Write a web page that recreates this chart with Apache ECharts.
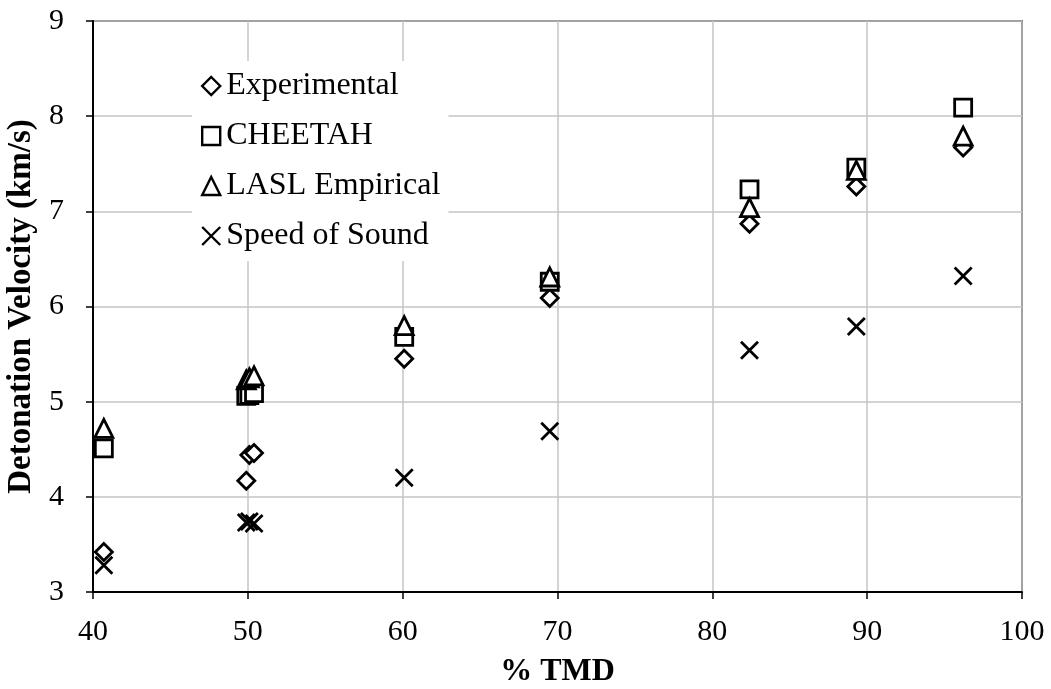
<!DOCTYPE html>
<html>
<head>
<meta charset="utf-8">
<script src="https://cdn.jsdelivr.net/npm/echarts@6/dist/echarts.min.js"></script>
<style>
  html, body { margin: 0; padding: 0; background: #fff; }
  #chart { width: 1051px; height: 689px; }
</style>
</head>
<body>
<div id="chart"></div>
<script>
// % of theoretical maximum density for each test
const tmd = [40.7, 49.9, 50.1, 50.4, 60.1, 69.5, 82.4, 89.3, 96.2];

// Detonation velocity (km/s)
const experimental = [3.42, 4.17, 4.44, 4.46, 5.45, 6.09, 6.87, 7.26, 7.67];
const cheetah      = [4.51, 5.06, 5.07, 5.09, 5.68, 6.26, 7.23, 7.46, 8.09];
const laslEmpirical= [4.72, 5.23, 5.25, 5.27, 5.80, 6.31, 7.04, 7.43, 7.79];
const speedOfSound = [3.28, 3.73, 3.74, 3.72, 4.20, 4.69, 5.54, 5.79, 6.32];

const seriesNames = ['Experimental', 'CHEETAH', 'LASL Empirical', 'Speed of Sound'];

const FONT = '"Liberation Serif", "Times New Roman", serif';

const DIAMOND = 'path://M0,-1L1,0L0,1L-1,0Z';
const CROSS = 'path://M-1,-1L1,1M1,-1L-1,1';

function pairs(values) {
  return tmd.map((x, i) => [x, values[i]]);
}

function scatter(name, values, symbol, size, filled) {
  return {
    name: name,
    type: 'scatter',
    data: pairs(values),
    symbol: symbol,
    symbolSize: size,
    itemStyle: {
      color: filled ? '#fff' : 'rgba(0,0,0,0)',
      borderColor: '#000',
      borderWidth: 2.8,
      opacity: 1
    },
    emphasis: { disabled: true }
  };
}

const chart = echarts.init(document.getElementById('chart'), null, { renderer: 'canvas' });

chart.setOption({
  animation: false,
  backgroundColor: '#fff',
  grid: {
    left: 93, right: 29, top: 21, bottom: 97,
    containLabel: false,
    outerBoundsMode: 'none',
    show: true, borderColor: '#000', borderWidth: 1.5
  },
  legend: {
    orient: 'vertical',
    left: 192,
    top: 61,
    padding: [9, 8, 9, 9],
    backgroundColor: '#fff',
    itemWidth: 18,
    itemHeight: 18,
    itemGap: 18,
    data: seriesNames,
    textStyle: {
      fontFamily: FONT, fontSize: 32, color: '#000',
      lineHeight: 32, padding: [0, 0, 0, 1]
    },
    itemStyle: { borderWidth: 2.4, opacity: 1 }
  },
  xAxis: {
    type: 'value',
    min: 40, max: 100, interval: 10,
    name: '% TMD',
    nameLocation: 'middle',
    nameGap: 64,
    nameTextStyle: { fontFamily: FONT, fontSize: 32, fontWeight: 'bold', color: '#000' },
    axisLine: { show: true, lineStyle: { color: '#000', width: 2 } },
    axisTick: { show: true, length: 7, lineStyle: { color: '#000', width: 1.5 } },
    axisLabel: { fontFamily: FONT, fontSize: 30, color: '#000', margin: 25 },
    splitLine: { show: true, lineStyle: { color: '#c4c4c4', width: 1.5 } }
  },
  yAxis: {
    type: 'value',
    min: 3, max: 9, interval: 1,
    name: 'Detonation Velocity (km/s)',
    nameLocation: 'middle',
    nameGap: 55,
    nameTextStyle: {
      fontFamily: FONT, fontSize: 33, fontWeight: 'bold', color: '#000'
    },
    axisLine: { show: true, lineStyle: { color: '#000', width: 2 } },
    axisTick: { show: true, length: 7, lineStyle: { color: '#000', width: 1.5 } },
    axisLabel: { fontFamily: FONT, fontSize: 30, color: '#000', margin: 29 },
    splitLine: { show: true, lineStyle: { color: '#c4c4c4', width: 1.5 } }
  },
  series: [
    scatter(seriesNames[0], experimental, DIAMOND, 17, true),
    scatter(seriesNames[1], cheetah, 'rect', 17, true),
    scatter(seriesNames[2], laslEmpirical, 'triangle', 18, true),
    scatter(seriesNames[3], speedOfSound, CROSS, 17, false)
  ]
});
</script>
</body>
</html>
